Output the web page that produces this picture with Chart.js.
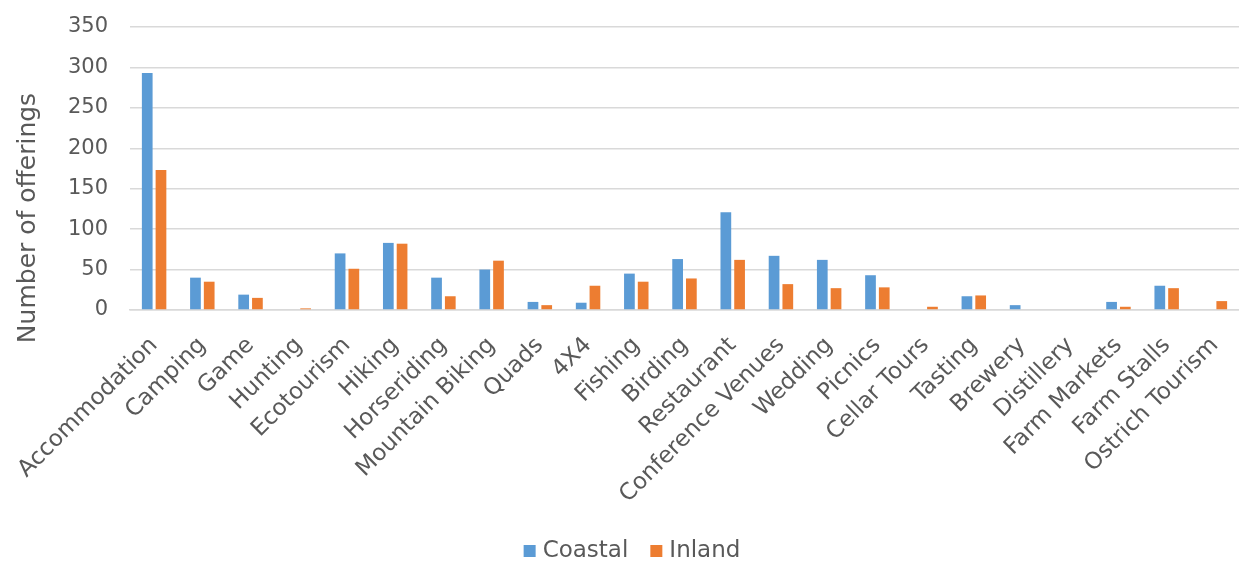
<!DOCTYPE html>
<html>
<head>
<meta charset="utf-8">
<script src="https://cdn.jsdelivr.net/npm/chart.js@4"></script>
<style>
  html, body { margin: 0; padding: 0; background: #fff; }
  #wrap { width: 1239px; height: 563px; }
</style>
</head>
<body>
<div id="wrap"><canvas id="chart"></canvas></div>
<script>
const categories = [
  "Accommodation", "Camping", "Game", "Hunting", "Ecotourism", "Hiking",
  "Horseriding", "Mountain Biking", "Quads", "4X4", "Fishing", "Birding",
  "Restaurant", "Conference Venues", "Wedding", "Picnics", "Cellar Tours",
  "Tasting", "Brewery", "Distillery", "Farm Markets", "Farm Stalls", "Ostrich Tourism"
];
const coastal = [293, 40, 19, 0, 70, 83, 40, 50, 10, 9, 45, 63, 121, 67, 62, 43, 0, 17, 6, 0, 10, 30, 0];
const inland  = [173, 35, 15, 2, 51, 82, 17, 61, 6, 30, 35, 39, 62, 32, 27, 28, 4, 18, 0, 0, 4, 27, 11];
const yTicks = [0, 50, 100, 150, 200, 250, 300, 350];
const yTitle = "Number of offerings";

const FONT = "'DejaVu Sans', sans-serif";
const TEXT = "#595959";

// y title and legend drawn by hand so they sit where the original has them
const extrasPlugin = {
  id: "extras",
  afterDraw(chart) {
    const ctx = chart.ctx;
    ctx.save();
    ctx.translate(28, 218);
    ctx.rotate(-Math.PI / 2);
    ctx.font = "25px " + FONT;
    ctx.fillStyle = TEXT;
    ctx.textAlign = "center";
    ctx.textBaseline = "middle";
    ctx.fillText(yTitle, 0, 0);
    ctx.restore();

    // legend
    ctx.save();
    ctx.font = "23px " + FONT;
    ctx.textBaseline = "middle";
    const box = 12, gap = 7, between = 22, cy = 551;
    const sets = chart.data.datasets;
    let total = 0;
    sets.forEach((ds, i) => {
      total += box + gap + ctx.measureText(ds.label).width;
      if (i < sets.length - 1) total += between;
    });
    let x = 632 - total / 2;
    sets.forEach((ds) => {
      ctx.fillStyle = ds.backgroundColor;
      ctx.fillRect(x, cy - box / 2, box, box);
      x += box + gap;
      ctx.fillStyle = TEXT;
      ctx.fillText(ds.label, x, cy);
      x += ctx.measureText(ds.label).width + between;
    });
    ctx.restore();
  },
};

new Chart(document.getElementById("chart"), {
  type: "bar",
  data: {
    labels: categories,
    datasets: [
      {
        label: "Coastal",
        data: coastal,
        backgroundColor: "#5B9BD5",
        categoryPercentage: 0.57,
        barPercentage: 0.78,
      },
      {
        label: "Inland",
        data: inland,
        backgroundColor: "#ED7D31",
        categoryPercentage: 0.57,
        barPercentage: 0.78,
      },
    ],
  },
  options: {
    animation: false,
    responsive: true,
    maintainAspectRatio: false,
    layout: { padding: { top: 27, right: 0, bottom: 30, left: 0 } },
    scales: {
      x: {
        afterFit: (scale) => {
          scale.height = 223;
          scale.paddingLeft = 0;
          scale.paddingRight = 0;
        },
        grid: { display: false, drawTicks: false },
        border: { display: true, color: "#D9D9D9", width: 1.5 },
        ticks: {
          color: TEXT,
          font: { family: FONT, size: 23 },
          minRotation: 45,
          maxRotation: 45,
          autoSkip: false,
          padding: 22,
        },
      },
      y: {
        min: 0,
        max: 350,
        afterBuildTicks: (scale) => {
          scale.ticks = yTicks.map((v) => ({ value: v }));
        },
        afterFit: (scale) => {
          scale.width = 130;
          scale.paddingTop = 0;
          scale.paddingBottom = 0;
        },
        grid: { color: "#D9D9D9", lineWidth: 1.5, drawTicks: false },
        border: { display: false },
        ticks: {
          color: TEXT,
          font: { family: FONT, size: 21 },
          padding: 22,
        },
      },
    },
    plugins: {
      legend: { display: false },
      tooltip: { enabled: false },
    },
  },
  plugins: [extrasPlugin],
});
</script>
</body>
</html>
